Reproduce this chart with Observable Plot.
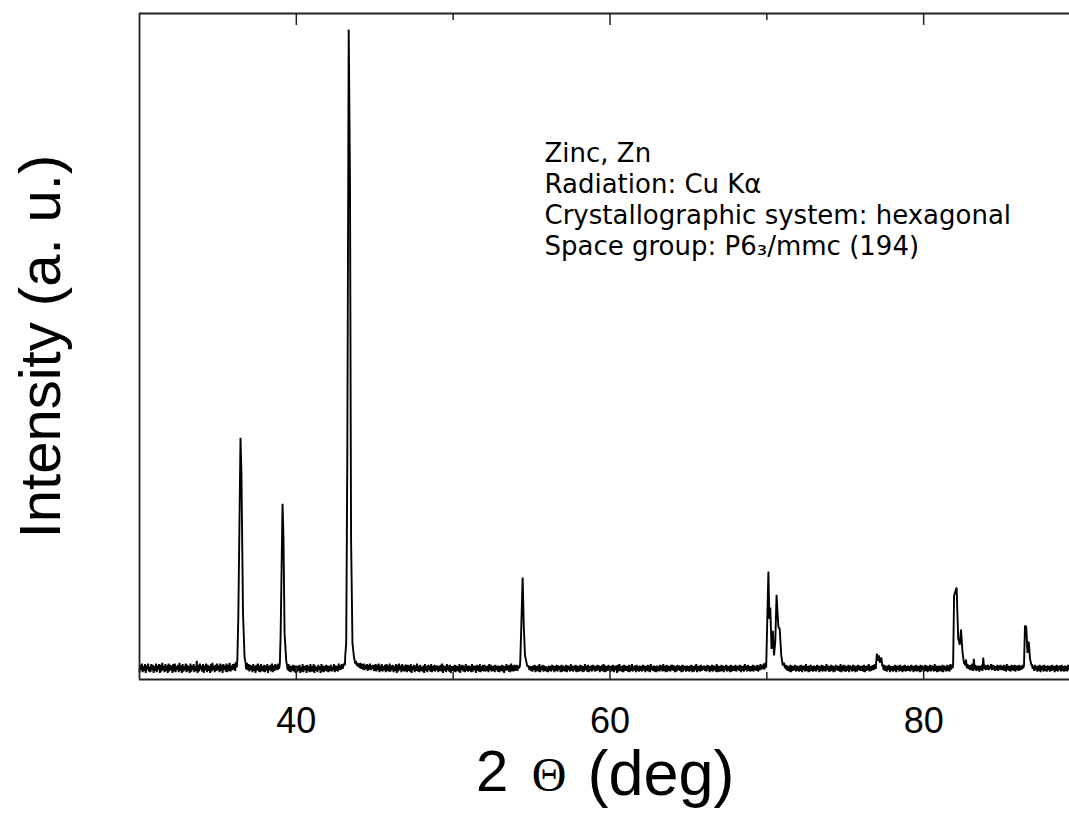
<!DOCTYPE html>
<html><head><meta charset="utf-8">
<script src="https://cdn.jsdelivr.net/npm/d3@7"></script>
<script src="https://cdn.jsdelivr.net/npm/@observablehq/plot@0.6"></script>
<style>html,body{margin:0;padding:0;background:#fff;overflow:hidden;}</style>
</head><body><div id="chart"></div>
<script>
// 2-theta scan: baseline read every 0.05 deg from 30.00 (one row per degree; null = covered by a peak list)
const baseStart = 30.0;
const baseStep = 0.05;
const baseline = [
  12,22,14,24,11,20,13,23,10,21,15,24,12,19,11,23,14,22,10,20,
  13,24,11,21,15,23,10,22,12,25,14,20,11,23,13,21,10,24,12,22,
  14,21,10,23,12,24,11,20,15,22,11,25,13,21,10,23,12,20,14,24,
  11,22,13,20,10,24,12,21,14,23,11,20,13,28,10,22,12,24,15,21,
  12,23,10,21,14,24,11,22,13,20,10,23,12,25,14,21,11,22,13,24,
  14,21,11,24,13,22,10,23,15,21,12,24,11,22,13,25,12,21,14,23,
  15,24,13,26,18,null,null,null,null,null,null,null,null,null,null,27,15,25,14,23,
  12,22,14,21,11,23,13,20,10,22,14,24,12,21,11,23,13,20,12,22,
  11,21,13,23,10,20,14,22,12,24,11,21,13,23,15,22,14,24,16,null,
  null,null,null,null,null,null,null,null,22,14,23,12,21,11,20,13,22,12,21,10,
  21,11,20,13,22,10,19,12,23,11,20,14,21,10,22,13,20,11,23,12,
  20,12,23,10,21,13,19,11,22,14,20,10,23,12,21,11,20,13,22,12,
  21,11,20,13,22,12,19,14,23,11,21,13,20,12,24,14,21,15,23,16,
  20,23,22,null,null,null,null,null,null,null,null,null,null,null,31,24,28,21,25,19,
  24,17,25,16,23,15,24,14,22,16,23,13,22,15,24,14,21,16,22,13,
  15,23,12,22,14,24,11,21,13,23,12,20,14,22,11,23,13,21,12,24,
  12,21,14,22,11,20,13,23,10,22,12,24,14,21,11,23,13,20,12,22,
  20,11,22,13,21,12,23,10,20,14,22,11,21,13,24,12,20,11,22,13,
  19,12,21,10,23,13,20,11,22,14,21,12,23,11,20,13,22,12,21,14,
  21,11,20,13,22,12,24,10,21,13,20,11,23,14,21,12,22,10,20,13,
  20,12,22,11,21,13,20,12,23,10,21,14,22,12,20,11,23,13,21,12,
  21,13,20,11,23,12,21,14,20,10,22,13,21,12,23,11,20,13,22,12,
  22,12,20,13,21,11,23,14,22,12,20,13,21,11,22,14,20,12,21,11,
  20,13,22,12,21,10,20,13,23,14,21,12,22,11,24,13,21,12,22,15,
  14,22,13,21,17,20,null,null,null,null,null,null,null,null,23,19,21,15,20,13,
  20,12,21,14,22,11,20,13,21,12,23,11,20,14,22,12,21,13,20,12,
  19,11,21,13,20,12,22,14,21,11,20,13,22,12,21,14,20,11,22,12,
  21,13,20,12,22,11,21,14,20,12,23,13,21,12,20,14,22,11,21,12,
  20,12,22,13,21,11,20,12,23,14,21,12,22,11,20,13,21,12,22,14,
  21,12,20,13,22,14,21,11,20,13,22,12,23,11,21,12,20,13,22,14,
  20,12,21,13,22,11,20,14,21,10,22,12,23,13,20,12,21,11,22,13,
  21,13,20,12,22,11,21,13,23,12,20,14,21,11,22,13,20,12,21,13,
  20,12,22,14,21,11,20,13,22,12,21,11,23,14,20,13,21,12,20,11,
  21,13,20,12,22,14,21,12,23,13,20,11,22,12,21,13,20,12,22,14,
  22,13,21,11,20,12,22,14,21,13,20,11,22,12,21,14,20,12,21,13,
  20,12,21,13,22,11,20,12,21,14,23,11,20,13,21,12,22,13,20,15,
  21,13,20,12,22,14,21,11,20,13,22,12,21,14,20,12,23,11,21,12,
  20,12,22,13,21,11,20,14,22,12,21,13,20,11,22,12,21,13,20,13,
  22,12,20,14,21,13,22,11,20,13,21,12,23,14,21,12,22,13,20,12,
  20,13,22,12,21,14,20,13,22,12,21,14,23,15,21,16,24,15,25,18,
  null,null,null,null,null,null,null,null,null,null,null,null,null,null,null,null,null,null,null,null,
  null,23,25,17,22,14,21,13,20,12,22,11,21,13,20,14,22,12,21,13,
  20,12,21,13,22,11,20,14,21,12,23,13,20,11,21,12,22,13,20,12,
  21,13,20,12,22,14,21,11,20,13,22,12,21,13,20,12,23,14,21,12,
  20,12,22,13,21,11,20,12,22,14,21,13,20,12,23,11,21,13,22,12,
  21,12,20,13,22,11,21,14,20,12,22,13,21,11,20,12,22,14,21,13,
  20,13,21,12,22,11,20,13,21,14,23,12,20,13,21,14,22,15,23,16,
  null,null,null,null,null,null,null,null,21,14,22,13,20,12,21,14,22,11,20,13,
  20,12,21,13,22,11,20,14,21,12,22,13,20,11,21,13,22,12,20,13,
  21,13,20,12,22,14,21,11,20,13,22,12,21,13,20,11,22,12,21,14,
  20,12,22,13,21,11,20,13,22,12,21,14,20,12,23,13,21,11,20,12,
  21,13,20,12,22,11,21,14,20,12,22,13,21,12,23,15,22,17,null,null,
  null,null,null,null,null,null,null,null,null,null,null,null,26,21,30,17,23,16,21,14,
  22,14,24,13,31,15,22,13,20,14,21,12,20,14,22,13,33,16,22,14,
  21,15,22,14,20,16,23,14,22,15,21,13,20,14,22,13,21,15,22,14,
  20,14,22,13,21,12,23,14,21,13,20,12,22,14,21,13,22,12,21,14,
  21,13,22,14,20,15,22,17,null,null,null,null,null,null,null,null,null,null,23,16,
  21,13,22,14,20,12,21,13,22,11,20,14,21,12,22,13,20,12,21,14,
  20,12,21,13,22,14,20,11,21,13,22,12,20,14,21,12,22,13,20,12,
  21,13,20,12,22,14,21,11,20,13,22,12,21,14,20,12,21,13,22,14
];

// Peaks (2-theta in deg, intensity in a.u.)
const peak36Theta = [36.24, 36.30, 36.44, 36.50, 36.60, 36.70];
const peak36Int   = [30, 93, 363, 310, 99, 33];
const peak39Theta = [38.95, 39.00, 39.12, 39.18, 39.25, 39.36];
const peak39Int   = [24, 69, 264, 213, 69, 27];
const peak43Theta = [43.12, 43.18, 43.25, 43.34, 43.42, 43.49, 43.58, 43.68];
const peak43Int   = [36, 54, 331, 976, 751, 211, 54, 33];
const peak54Theta = [54.28, 54.35, 54.43, 54.50, 54.58, 54.68];
const peak54Int   = [28, 85, 153, 81, 36, 25];
const peak70Theta = [69.96, 70.02, 70.10, 70.16, 70.22, 70.30, 70.38, 70.46, 70.54, 70.62, 70.68, 70.74, 70.82, 70.92, 71.02];
const peak70Int   = [19, 81, 162, 91, 108, 46, 73, 36, 58, 127, 100, 79, 76, 36, 21];
const peak77Theta = [76.96, 77.02, 77.08, 77.14, 77.22, 77.30, 77.36];
const peak77Int   = [22, 39, 28, 36, 25, 33, 21];
const peak82Theta = [81.88, 81.94, 82.10, 82.20, 82.30, 82.38, 82.48, 82.58];
const peak82Int   = [25, 126, 138, 62, 52, 75, 40, 24];
const peak86Theta = [86.40, 86.46, 86.54, 86.62, 86.70, 86.78, 86.88];
const peak86Int   = [22, 81, 79, 40, 57, 31, 21];

const xDomain = [30, 90];
const yDomain = [0, 1000];
const xTickLabels = [40, 60, 80];
const xMinorTicks = [50, 70, 90];
const yLabel = "Intensity (a. u.)";
const noteLines = ["Zinc, Zn", "Radiation: Cu K\u03B1", "Crystallographic system: hexagonal", "Space group: P6\u2083/mmc (194)"];

// assemble the scan
const scan = [];
baseline.forEach((v, i) => { if (v !== null) scan.push({theta: +(baseStart + i * baseStep).toFixed(2), counts: v}); });
[[peak36Theta, peak36Int],[peak39Theta, peak39Int],[peak43Theta, peak43Int],[peak54Theta, peak54Int],
 [peak70Theta, peak70Int],[peak77Theta, peak77Int],[peak82Theta, peak82Int],[peak86Theta, peak86Int]]
 .forEach(([t, c]) => t.forEach((th, i) => scan.push({theta: th, counts: c[i]})));
scan.sort((a, b) => a.theta - b.theta);

const frameColor = "#222";
const chart = Plot.plot({
  width: 1069, height: 815,
  marginLeft: 139, marginRight: -11, marginTop: 13, marginBottom: 136,
  x: {domain: xDomain},
  y: {domain: yDomain, axis: null},
  style: {fontFamily: "'Liberation Sans', Arial, sans-serif", background: "white", color: "black"},
  marks: [
    Plot.line(scan, {x: "theta", y: "counts", stroke: "black", strokeWidth: 1.9, strokeLinejoin: "miter", strokeMiterlimit: 2}),
    Plot.ruleY([yDomain[0], yDomain[1]], {stroke: frameColor, strokeWidth: 1.8}),
    Plot.ruleX([xDomain[0]], {stroke: frameColor, strokeWidth: 1.8}),
    Plot.ruleX(xTickLabels, {y1: yDomain[0], y2: 18, stroke: frameColor, strokeWidth: 1.5}),
    Plot.ruleX(xTickLabels, {y1: yDomain[1], y2: 982, stroke: frameColor, strokeWidth: 1.5}),
    Plot.ruleX(xMinorTicks, {y1: yDomain[0], y2: 10.5, stroke: frameColor, strokeWidth: 1.5}),
    Plot.ruleX(xMinorTicks, {y1: yDomain[1], y2: 989.5, stroke: frameColor, strokeWidth: 1.5}),
    Plot.axisX({ticks: xTickLabels, tickSize: 0, tickPadding: 28, fontSize: 36, label: null, tickFormat: d => String(d)}),
    Plot.text([yLabel], {text: d => d, frameAnchor: "left", textAnchor: "middle", dx: -98, rotate: -90, fontSize: 58, lineAnchor: "middle"}),
    Plot.text(["2"], {text: d => d, frameAnchor: "bottom", textAnchor: "middle", dx: -118, dy: 93, fontSize: 58, lineAnchor: "middle"}),
    Plot.text(["\u0398"], {text: d => d, frameAnchor: "bottom", textAnchor: "middle", dx: -61, dy: 96, fontSize: 48, fontFamily: "'Liberation Serif', serif", lineAnchor: "middle"}),
    Plot.text(["(deg)"], {text: d => d, frameAnchor: "bottom", textAnchor: "middle", dx: 51, dy: 95, fontSize: 63, lineAnchor: "middle"}),
    Plot.text([noteLines.join("\n")], {text: d => d, frameAnchor: "top-left", textAnchor: "start", lineAnchor: "top",
      dx: 405, dy: 126, fontSize: 26, lineHeight: 1.2, fontFamily: "'DejaVu Sans', sans-serif"})
  ]
});
document.getElementById("chart").appendChild(chart);
</script></body></html>
